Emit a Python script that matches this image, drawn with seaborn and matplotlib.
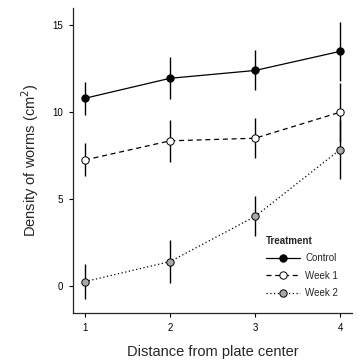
import numpy as np
import pandas as pd
import seaborn as sns
import matplotlib.pyplot as plt
from matplotlib.lines import Line2D

# ---------------------------------------------------------
# Worm density by distance from plate center
# ---------------------------------------------------------
distance = [1, 2, 3, 4]
treatments = ["Control", "Week 1", "Week 2"]

control_mean = [10.8, 11.95, 12.4, 13.5]
control_err = [0.95, 1.2, 1.15, 1.7]
week1_mean = [7.25, 8.35, 8.5, 10.0]
week1_err = [0.95, 1.2, 1.15, 1.7]
week2_mean = [0.25, 1.4, 4.0, 7.85]
week2_err = [1.0, 1.25, 1.15, 1.7]

df = pd.DataFrame({
    "Distance": distance * 3,
    "Density": control_mean + week1_mean + week2_mean,
    "Err": control_err + week1_err + week2_err,
    "Treatment": np.repeat(treatments, len(distance)),
})

sns.set_style("ticks")
plt.rcParams["font.family"] = ["Liberation Sans", "DejaVu Sans"]

styles = {
    "Control": dict(ls="-", face="black"),
    "Week 1": dict(ls=(0, (4, 3)), face="white"),
    "Week 2": dict(ls=(0, (1, 2)), face="#a8a8a8"),
}

fig = plt.figure(figsize=(3.6, 3.6), dpi=100)
ax = fig.add_axes([0.203, 0.131, 0.775, 0.847])

for t in treatments:
    sub = df[df["Treatment"] == t]
    st = styles[t]
    ax.errorbar(sub["Distance"], sub["Density"], yerr=sub["Err"], fmt="none",
                ecolor="black", elinewidth=1.0, capsize=0, zorder=2)
    sns.lineplot(data=sub, x="Distance", y="Density", ax=ax, color="black",
                 linewidth=0.9, linestyle=st["ls"], marker="o", markersize=5.3,
                 markerfacecolor=st["face"], markeredgecolor="black",
                 markeredgewidth=0.7, zorder=3, legend=False)

ax.set_xlim(0.86, 4.14)
ax.set_ylim(-1.55, 16.0)
ax.set_xticks(distance)
ax.set_yticks([0, 5, 10, 15])
ax.tick_params(labelsize=7, length=3, width=0.8, pad=4, colors="black")
for s in ["left", "bottom"]:
    ax.spines[s].set_linewidth(0.9)
sns.despine(ax=ax)

ax.set_xlabel("Distance from plate center", fontsize=10.5, labelpad=9)
ax.set_ylabel("Density of worms (cm$^2$)", fontsize=10.5, labelpad=8)

handles = [
    Line2D([0], [0], color="black", lw=0.9, ls=styles[t]["ls"], marker="o",
           markersize=5.3, markerfacecolor=styles[t]["face"],
           markeredgecolor="black", markeredgewidth=0.7)
    for t in treatments
]
leg = ax.legend(handles, treatments, title="Treatment", loc="lower right",
                bbox_to_anchor=(0.982, 0.02), frameon=False, fontsize=7,
                title_fontproperties={"weight": "bold", "size": 7},
                handlelength=3.5, labelspacing=0.75, handletextpad=0.6)
leg._legend_box.align = "left"

fig.savefig("out.png", dpi=100)
